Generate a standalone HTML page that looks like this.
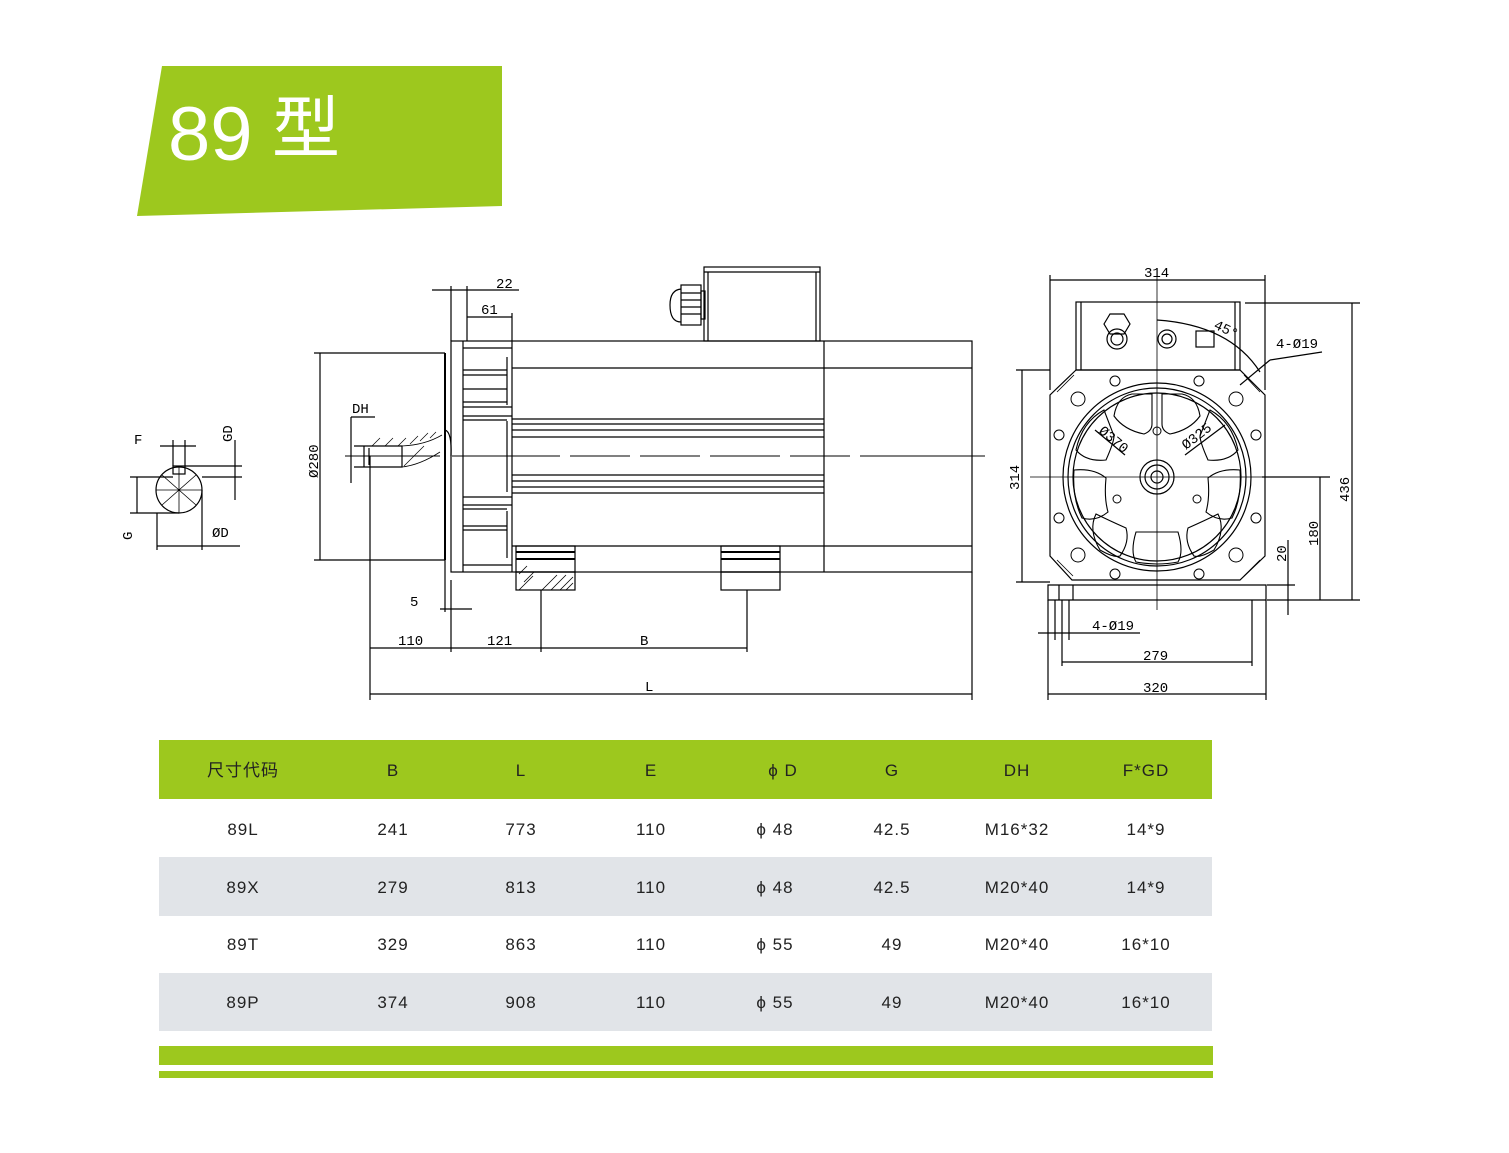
<!DOCTYPE html>
<html><head><meta charset="utf-8"><style>
body{margin:0;background:#fff;}
svg{display:block;}
.t{font-family:"Liberation Sans","Noto Sans CJK SC",sans-serif;}
.d{font-family:"Liberation Mono",monospace;font-size:14px;fill:#000;}
</style></head><body>
<svg width="1509" height="1153" viewBox="0 0 1509 1153" xmlns="http://www.w3.org/2000/svg">
<rect width="1509" height="1153" fill="#fff"/>
<polygon points="162,66 502,66 502,206 137,216" fill="#9dc81e"/>
<text x="168" y="160" class="t" font-size="76" fill="#fff">89</text>
<text x="272" y="152" class="t" font-size="68" fill="#fff" font-family="Noto Sans CJK SC">型</text>

<g stroke="#000" stroke-width="1.2" fill="none">
<rect x="451" y="341" width="521" height="231"/>
<line x1="512" y1="341" x2="512" y2="572"/>
<line x1="824" y1="341" x2="824" y2="572"/>
<line x1="512" y1="368" x2="972" y2="368"/>
<line x1="512" y1="546" x2="972" y2="546"/>
<line x1="512" y1="419" x2="824" y2="419"/><line x1="512" y1="424" x2="824" y2="424"/><line x1="512" y1="430" x2="824" y2="430"/><line x1="512" y1="437" x2="824" y2="437"/>
<line x1="512" y1="475" x2="824" y2="475"/><line x1="512" y1="481" x2="824" y2="481"/><line x1="512" y1="487" x2="824" y2="487"/><line x1="512" y1="493" x2="824" y2="493"/>
<line x1="463" y1="341" x2="463" y2="572"/>
<path d="M463,348 H512 M463,370 H507 M463,375 H507 M463,389 H507 M463,402 H507 M463,407 H512 M463,416 H512 M463,420 H507 M463,497 H512 M463,505 H512 M463,509 H507 M463,526 H507 M463,530 H507 M463,565 H512"/>
<path d="M507,357 V405 M507,421 V492 M507,511 V558"/>
<line x1="445" y1="353" x2="445" y2="560" stroke-width="2"/>
<path d="M445,430 Q452,432 451,456"/>
<rect x="704" y="267" width="116" height="74"/><line x1="704" y1="272" x2="820" y2="272"/><line x1="708" y1="272" x2="708" y2="341"/><line x1="816" y1="272" x2="816" y2="341"/>
<rect x="681" y="285" width="20" height="40"/><path d="M681,289 Q670,290 670,305 Q670,322 681,322"/><rect x="701" y="291" width="4" height="28"/>
<path d="M681,293 H701 M681,300 H701 M681,307 H701 M681,314 H701"/>
<rect x="516" y="546" width="59" height="26"/><line x1="516" y1="552" x2="575" y2="552" stroke-width="2"/><line x1="516" y1="559" x2="575" y2="559" stroke-width="2"/>
<rect x="516" y="572" width="59" height="18"/>
<rect x="721" y="546" width="59" height="26"/><line x1="721" y1="552" x2="780" y2="552" stroke-width="2"/><line x1="721" y1="559" x2="780" y2="559" stroke-width="2"/>
<rect x="721" y="572" width="59" height="18"/>
<path d="M519,574 l8,-8 M524,582 l10,-10 M519,590 l14,-14 M542,590 l15,-15 M551,590 l15,-15 M560,590 l13,-13 M566,590 l7,-7" stroke-width="0.8"/>
<path d="M345,456 H440 M452,456 H560 M570,456 H630 M640,456 H700 M710,456 H780 M790,456 H850 M860,456 H985" stroke-width="1"/>
<path d="M354,446 H402 V467 H354 M364,446 V467 M369,448 V465" />
<path d="M402,446 Q425,445 442,435 M402,467 Q420,465 440,452" stroke-width="0.8"/>
<path d="M372,446 l8,-8 M385,446 l8,-8 M398,446 l8,-8 M410,444 l8,-8 M420,441 l8,-8 M430,438 l6,-6 M408,462 l12,-12 M404,466 l20,-20" stroke-width="0.7"/>
<line x1="320" y1="353" x2="320" y2="560"/><line x1="314" y1="353" x2="445" y2="353"/><line x1="314" y1="560" x2="445" y2="560"/>
<line x1="351" y1="417" x2="351" y2="483"/><line x1="351" y1="417" x2="375" y2="417"/>
<line x1="370" y1="456" x2="370" y2="700"/><line x1="451" y1="580" x2="451" y2="652"/><line x1="445" y1="560" x2="445" y2="612"/>
<line x1="541" y1="590" x2="541" y2="652"/><line x1="747" y1="590" x2="747" y2="652"/><line x1="972" y1="572" x2="972" y2="700"/>
<line x1="370" y1="648" x2="747" y2="648"/><line x1="370" y1="694" x2="972" y2="694"/>
<line x1="451" y1="286" x2="451" y2="341"/><line x1="467" y1="286" x2="467" y2="341"/><line x1="512" y1="313" x2="512" y2="341"/>
<line x1="432" y1="290" x2="519" y2="290"/><line x1="467" y1="317" x2="512" y2="317"/>
<line x1="440" y1="609" x2="472" y2="609"/>
<circle cx="179" cy="490" r="23"/>
<rect x="173" y="466" width="12" height="8"/>
<path d="M156,490 H202 M179,467 V513 M162,475 l34,30 M196,475 l-34,30" stroke-width="0.8"/>
<line x1="173" y1="440" x2="173" y2="466"/><line x1="185" y1="440" x2="185" y2="466"/><line x1="160" y1="446" x2="196" y2="446"/>
<line x1="185" y1="466" x2="242" y2="466"/><line x1="202" y1="477" x2="242" y2="477"/><line x1="235" y1="440" x2="235" y2="500"/>
<line x1="130" y1="477" x2="173" y2="477"/><line x1="130" y1="513" x2="179" y2="513"/><line x1="137" y1="477" x2="137" y2="513"/>
<line x1="157" y1="513" x2="157" y2="550"/><line x1="202" y1="490" x2="202" y2="550"/><line x1="157" y1="546" x2="240" y2="546"/>
<rect x="1076" y="302" width="164" height="68"/><line x1="1081" y1="302" x2="1081" y2="370"/><line x1="1235" y1="302" x2="1235" y2="370"/>
<path d="M1076,370 L1050,395 V556 L1072,580 H1240 L1265,556 V395 L1240,370 Z"/>
<path d="M1074,375 L1057,392 M1244,375 L1260,392 M1057,560 L1073,576 M1260,560 L1244,576" stroke-width="0.8"/>
<circle cx="1157" cy="477" r="94"/><circle cx="1157" cy="477" r="89"/><circle cx="1157" cy="477" r="84"/>
<circle cx="1157" cy="477" r="17"/><circle cx="1157" cy="477" r="12"/><circle cx="1157" cy="477" r="6"/>
<g stroke-width="1.1">
<path d="M1162,394 h20 q15,3 18,22 q-10,14 -30,18 q-8,-3 -8,-10 z"/>
<path d="M1152,394 h-20 q-15,3 -18,22 q10,14 30,18 q8,-3 8,-10 z"/>
<path d="M1210,410 q22,12 28,40 q-10,12 -30,10 q-8,-18 -8,-24 z"/>
<path d="M1104,410 q-22,12 -28,40 q10,12 30,10 q8,-18 8,-24 z"/>
<path d="M1240,470 q2,28 -8,48 q-14,4 -26,-6 q4,-14 2,-34 q12,-10 32,-8 z"/>
<path d="M1074,470 q-2,28 8,48 q14,4 26,-6 q-4,-14 -2,-34 q-12,-10 -32,-8 z"/>
<path d="M1136,532 h42 q6,20 0,30 q-21,4 -42,0 q-6,-10 0,-30 z"/>
<path d="M1188,528 q18,-8 30,-14 q8,16 -4,36 q-14,8 -20,6 q-10,-14 -6,-28 z"/>
<path d="M1126,528 q-18,-8 -30,-14 q-8,16 4,36 q14,8 20,6 q10,-14 6,-28 z"/>
</g>
<g stroke-width="1">
<circle cx="1115" cy="381" r="5"/><circle cx="1199" cy="381" r="5"/><circle cx="1059" cy="435" r="5"/><circle cx="1256" cy="435" r="5"/>
<circle cx="1059" cy="518" r="5"/><circle cx="1256" cy="518" r="5"/><circle cx="1115" cy="574" r="5"/><circle cx="1199" cy="574" r="5"/>
<circle cx="1078" cy="399" r="7"/><circle cx="1236" cy="399" r="7"/><circle cx="1078" cy="555" r="7"/><circle cx="1236" cy="555" r="7"/>
<circle cx="1157" cy="431" r="4"/><circle cx="1117" cy="499" r="4"/><circle cx="1197" cy="499" r="4"/>
</g>
<path d="M1104,324 l6,-10 h14 l6,10 l-6,10 h-14 z"/><circle cx="1117" cy="339" r="10"/><circle cx="1117" cy="339" r="6"/>
<circle cx="1167" cy="339" r="9"/><circle cx="1167" cy="339" r="5"/>
<rect x="1196" y="331" width="18" height="16"/>
<path d="M1048,585 H1266 V600 H1048 Z M1048,585 V600 M1059,585 V600 M1073,585 V600"/>
<path d="M1157,275 V610 M1030,477 H1290" stroke-width="0.8"/>
<path d="M1157,320 Q1230,325 1260,372"/>
<line x1="1050" y1="275" x2="1050" y2="390"/><line x1="1265" y1="275" x2="1265" y2="390"/><line x1="1050" y1="280" x2="1265" y2="280"/>
<line x1="1016" y1="370" x2="1050" y2="370"/><line x1="1016" y1="582" x2="1050" y2="582"/><line x1="1022" y1="370" x2="1022" y2="582"/>
<line x1="1245" y1="303" x2="1360" y2="303"/><line x1="1267" y1="600" x2="1360" y2="600"/><line x1="1352" y1="303" x2="1352" y2="600"/>
<line x1="1262" y1="477" x2="1330" y2="477"/><line x1="1320" y1="477" x2="1320" y2="600"/>
<line x1="1267" y1="585" x2="1295" y2="585"/><line x1="1288" y1="540" x2="1288" y2="615"/>
<line x1="1240" y1="385" x2="1270" y2="360"/><line x1="1270" y1="360" x2="1322" y2="352"/>
<line x1="1048" y1="600" x2="1048" y2="700"/><line x1="1266" y1="600" x2="1266" y2="700"/><line x1="1048" y1="694" x2="1266" y2="694"/>
<line x1="1062" y1="600" x2="1062" y2="666"/><line x1="1252" y1="600" x2="1252" y2="666"/><line x1="1062" y1="662" x2="1252" y2="662"/>
<line x1="1038" y1="633" x2="1140" y2="633"/><line x1="1055" y1="600" x2="1055" y2="640"/><line x1="1069" y1="600" x2="1069" y2="640"/>
<line x1="1095" y1="430" x2="1125" y2="455"/><line x1="1185" y1="455" x2="1225" y2="425"/>
</g>
<g class="d">
<text x="496" y="288">22</text><text x="481" y="314">61</text>
<text x="352" y="413">DH</text><text x="410" y="606">5</text>
<text x="398" y="645">110</text><text x="487" y="645">121</text><text x="640" y="645">B</text><text x="645" y="691">L</text>
<text x="134" y="444">F</text><text x="212" y="537">ØD</text>
<text x="1144" y="277">314</text><text x="1276" y="348">4-Ø19</text><text x="1092" y="630">4-Ø19</text>
<text x="1143" y="660">279</text><text x="1143" y="692">320</text>
<text transform="translate(318,478) rotate(-90)">Ø280</text>
<text transform="translate(232,442) rotate(-90)">GD</text>
<text transform="translate(132,540) rotate(-90)">G</text>
<text transform="translate(1019,490) rotate(-90)">314</text>
<text transform="translate(1349,502) rotate(-90)">436</text>
<text transform="translate(1318,546) rotate(-90)">180</text>
<text transform="translate(1286,562) rotate(-90)">20</text>
<text transform="translate(1098,432) rotate(40)">Ø370</text>
<text transform="translate(1186,450) rotate(-38)">Ø325</text>
<text transform="translate(1213,328) rotate(25)">45°</text>
</g>
<rect x="159" y="740" width="1053" height="59" fill="#9dc81e"/>
<rect x="159" y="857" width="1053" height="59" fill="#e1e4e8"/>
<rect x="159" y="973" width="1053" height="58" fill="#e1e4e8"/>
<rect x="159" y="1046" width="1054" height="19" fill="#9dc81e"/>
<rect x="159" y="1071" width="1054" height="7" fill="#9dc81e"/>
<g class="t" font-size="17" fill="#222" text-anchor="middle" letter-spacing="1">
<text x="243" y="776">尺寸代码</text><text x="393" y="776">B</text><text x="521" y="776">L</text><text x="651" y="776">E</text><text x="783" y="776">ϕ D</text><text x="892" y="776">G</text><text x="1017" y="776">DH</text><text x="1146" y="776">F*GD</text>
<text x="243" y="835">89L</text><text x="393" y="835">241</text><text x="521" y="835">773</text><text x="651" y="835">110</text><text x="775" y="835">ϕ 48</text><text x="892" y="835">42.5</text><text x="1017" y="835">M16*32</text><text x="1146" y="835">14*9</text>
<text x="243" y="893">89X</text><text x="393" y="893">279</text><text x="521" y="893">813</text><text x="651" y="893">110</text><text x="775" y="893">ϕ 48</text><text x="892" y="893">42.5</text><text x="1017" y="893">M20*40</text><text x="1146" y="893">14*9</text>
<text x="243" y="950">89T</text><text x="393" y="950">329</text><text x="521" y="950">863</text><text x="651" y="950">110</text><text x="775" y="950">ϕ 55</text><text x="892" y="950">49</text><text x="1017" y="950">M20*40</text><text x="1146" y="950">16*10</text>
<text x="243" y="1008">89P</text><text x="393" y="1008">374</text><text x="521" y="1008">908</text><text x="651" y="1008">110</text><text x="775" y="1008">ϕ 55</text><text x="892" y="1008">49</text><text x="1017" y="1008">M20*40</text><text x="1146" y="1008">16*10</text>
</g>
</svg>
</body></html>
